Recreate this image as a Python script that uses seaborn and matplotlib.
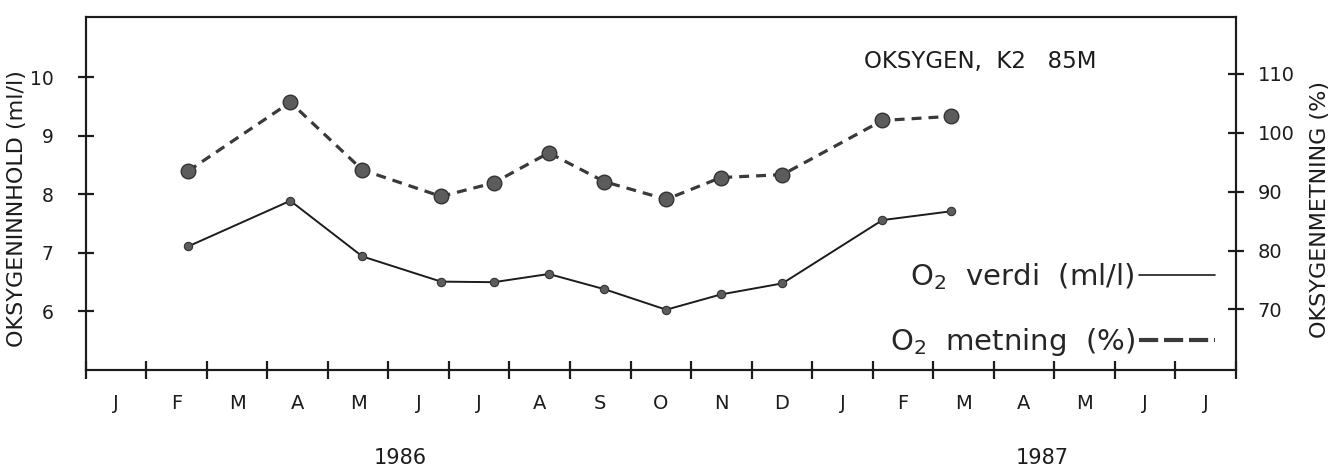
import numpy as np
import pandas as pd
import matplotlib.pyplot as plt
from matplotlib.lines import Line2D
from matplotlib import transforms
import seaborn as sns

# sampling times in months after 1 Jan 1986
sample_month = [1.69, 3.38, 4.57, 5.87, 6.74, 7.65, 8.57, 9.59, 10.49, 11.51, 13.16, 14.29]
o2_ml = [7.11, 7.89, 6.94, 6.51, 6.50, 6.64, 6.38, 6.03, 6.29, 6.48, 7.56, 7.71]
o2_pct = [93.5, 105.2, 93.7, 89.2, 91.5, 96.6, 91.7, 88.7, 92.4, 92.9, 102.1, 102.8]

month_labels = ['J', 'F', 'M', 'A', 'M', 'J', 'J', 'A', 'S', 'O', 'N', 'D',
                'J', 'F', 'M', 'A', 'M', 'J', 'J']
year_labels = ['1986', '1987']
year_pos = [5.2, 15.8]
left_ticks = [6, 7, 8, 9, 10]
right_ticks = [70, 80, 90, 100, 110]

df = pd.DataFrame({'month': sample_month, 'ml': o2_ml, 'pct': o2_pct})

sns.set_style('white')
plt.rcParams['font.family'] = ['DejaVu Sans']
plt.rcParams['mathtext.fontset'] = 'dejavusans'

ink = '#1c1c1c'
dash_col = '#3a3a3a'
dot = '#5c5c5c'

fig = plt.figure(figsize=(13.39, 4.69), dpi=100)
ax = fig.add_axes([0.064, 0.211, 0.859, 0.753])
ax2 = ax.twinx()

sns.lineplot(data=df, x='month', y='ml', ax=ax, color=ink, lw=1.4,
             marker='o', markersize=6, markerfacecolor=dot,
             markeredgecolor='#333333', markeredgewidth=0.8)
sns.lineplot(data=df, x='month', y='pct', ax=ax2, color=dash_col, lw=2.3,
             linestyle=(0, (3.1, 2.2)), marker='o', markersize=10.5,
             markerfacecolor=dot, markeredgecolor='#333333', markeredgewidth=1)

ax.set_xlim(0, 19)
ax.set_ylim(5.0, 11.03)
ax2.set_ylim(59.7, 119.7)

# month ticks: crosses at month borders, letters in between
ax.set_xticks(range(20))
ax.set_xticklabels([])
ax.set_xticks(np.arange(19) + 0.5, minor=True)
ax.set_xticklabels(month_labels, minor=True)
ax.tick_params(axis='x', which='major', direction='inout', length=13, width=1.6,
               color=ink, bottom=True, top=False)
ax.tick_params(axis='x', which='minor', length=0, pad=17, labelsize=14, labelcolor=ink)

ax.set_yticks(left_ticks)
ax.tick_params(axis='y', direction='inout', length=12, width=1.6, color=ink,
               pad=17, labelsize=13.5, labelcolor=ink, left=True, right=False)
ax2.set_yticks(right_ticks)
ax2.tick_params(axis='y', direction='inout', length=12, width=1.6, color=ink,
                pad=9.5, labelsize=14, labelcolor=ink, right=True, left=False)

for a in (ax, ax2):
    for s in a.spines.values():
        s.set_linewidth(1.5)
        s.set_color(ink)

ax.set_xlabel('')
ax2.set_xlabel('')
ax.set_ylabel('OKSYGENINNHOLD (ml/l)', fontsize=16, color=ink)
ax.yaxis.set_label_coords(-0.051, 0.457)
ax2.set_ylabel('OKSYGENMETNING (%)', fontsize=16, color=ink)
ax2.yaxis.set_label_coords(1.064, 0.455)

ax.text(0.677, 0.875, 'OKSYGEN,  K2   85M', transform=ax.transAxes,
        fontsize=16.5, va='center', ha='left', color=ink)

trans = transforms.blended_transform_factory(ax.transData, ax.transAxes)
for lbl, pos in zip(year_labels, year_pos):
    ax.text(pos, -0.249, lbl, transform=trans, ha='center', va='center',
            fontsize=15, color=ink)

handles = [Line2D([], [], color=ink, lw=1.2),
           Line2D([], [], color=dash_col, lw=3, linestyle=(0, (4.6, 1.4)))]
labels = ['O$_2$  verdi  (ml/l)', 'O$_2$  metning  (%)']
ax.legend(handles, labels, loc='lower left', bbox_to_anchor=(0.699, 0.034),
          markerfirst=False, frameon=False, fontsize=21, handlelength=2.6,
          handletextpad=0.15, labelspacing=1.15, borderpad=0, borderaxespad=0)

fig.savefig('out.png', dpi=100)
